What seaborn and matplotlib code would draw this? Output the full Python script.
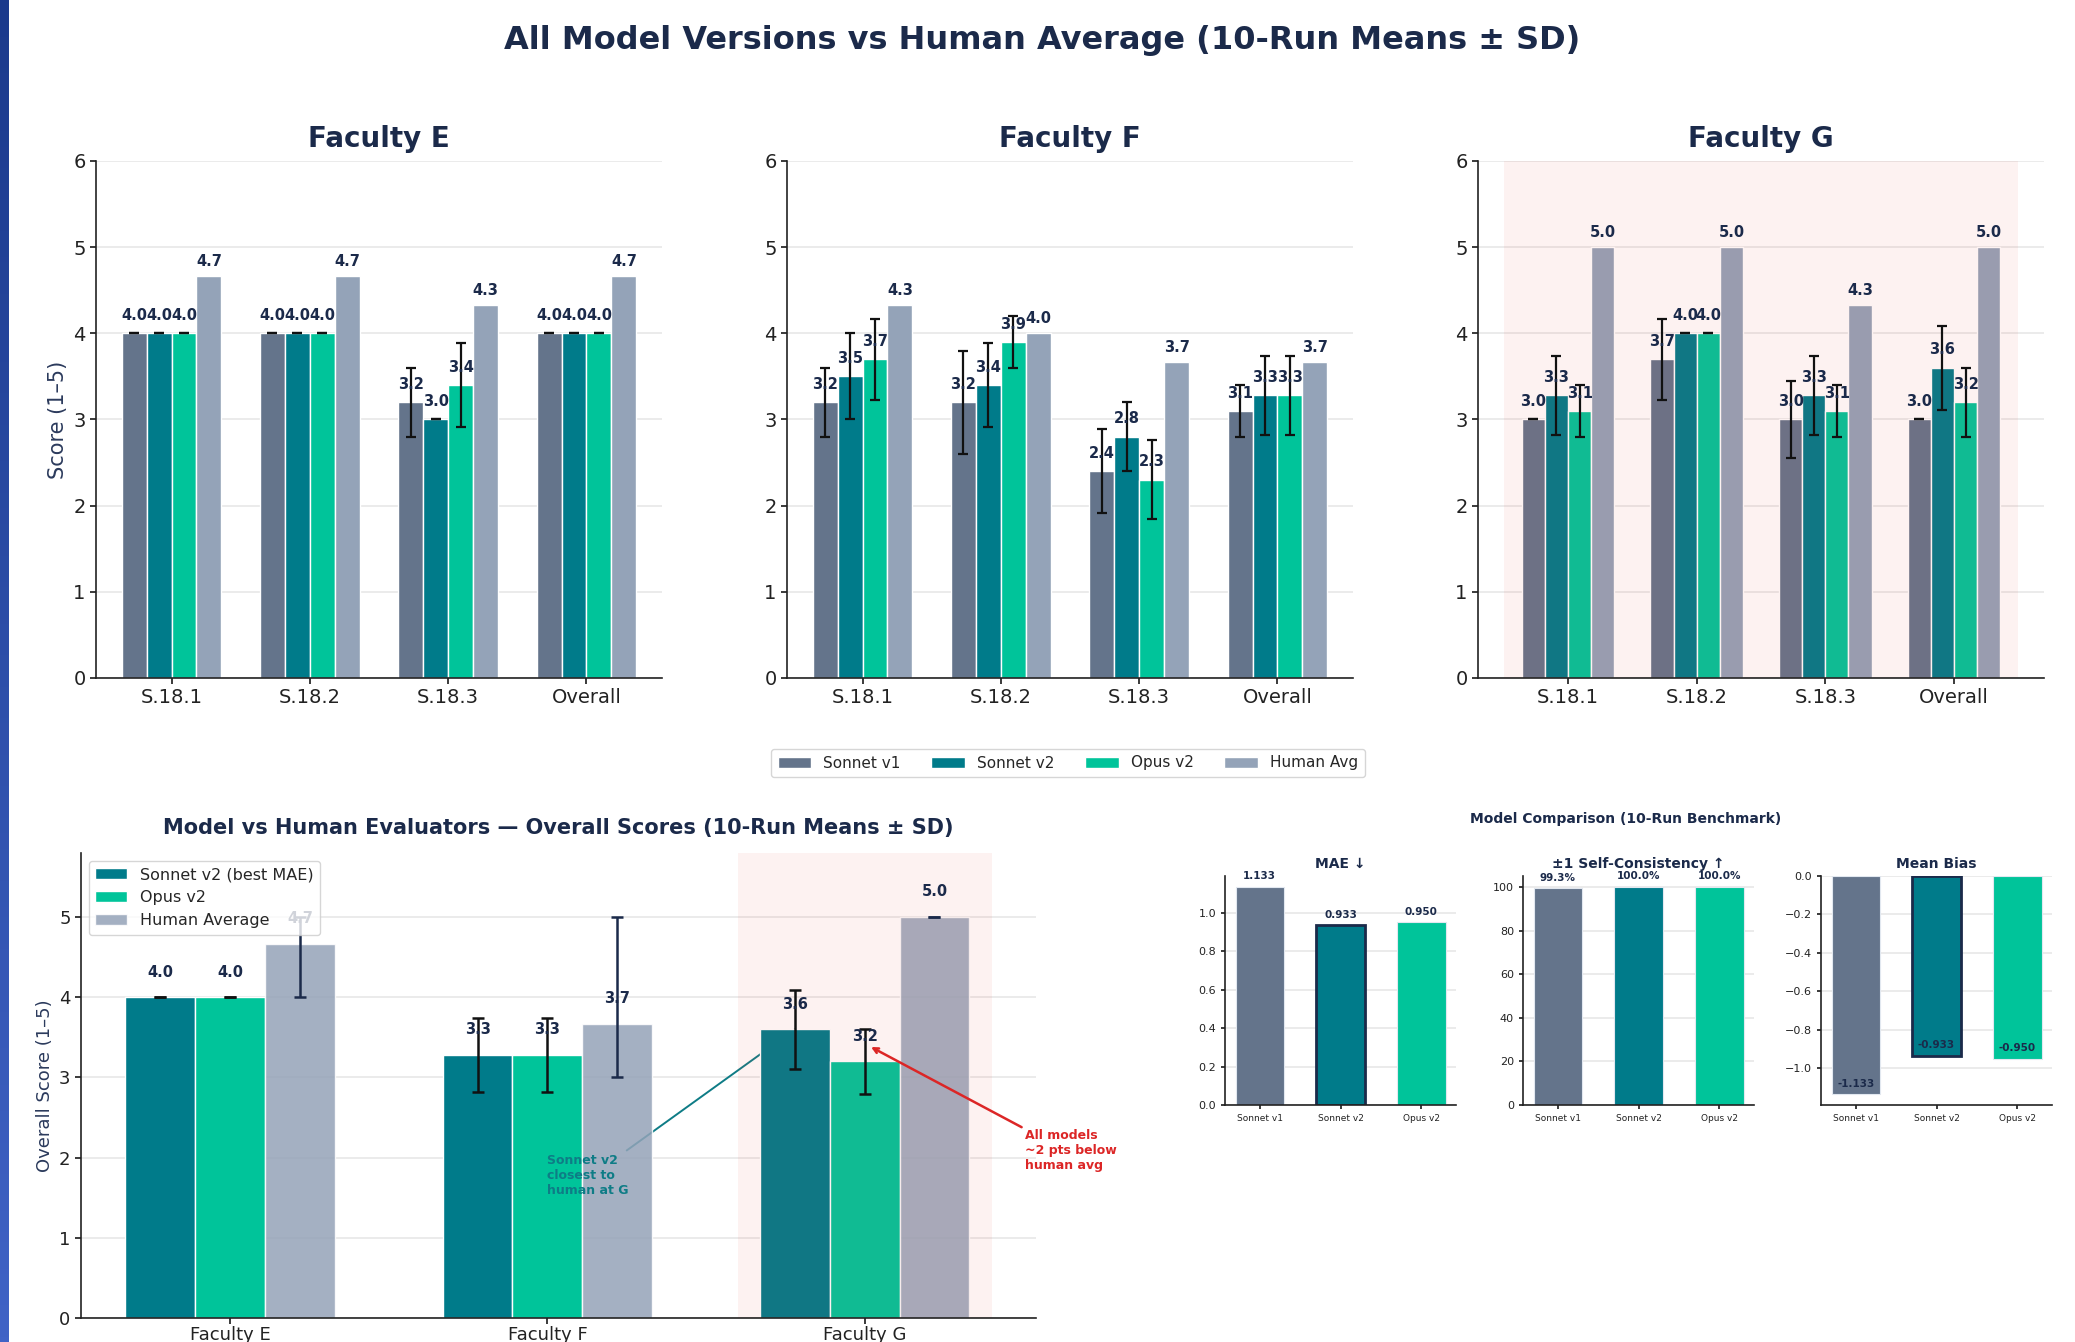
import numpy as np
import pandas as pd
import matplotlib
matplotlib.use("Agg")
import matplotlib.pyplot as plt
import seaborn as sns
from matplotlib.patches import Patch
from matplotlib.container import BarContainer
from matplotlib.colors import LinearSegmentedColormap

# ---------------- data ----------------
sections = ["S.18.1", "S.18.2", "S.18.3", "Overall"]
series_top = ["Sonnet v1", "Sonnet v2", "Opus v2", "Human Avg"]
faculties = ["Faculty E", "Faculty F", "Faculty G"]

e_sonnet_v1 = [4.0, 4.0, 3.2, 4.0]
e_sonnet_v1_sd = [0.0, 0.0, 0.4, 0.0]
e_sonnet_v2 = [4.0, 4.0, 3.0, 4.0]
e_sonnet_v2_sd = [0.0, 0.0, 0.0, 0.0]
e_opus_v2 = [4.0, 4.0, 3.4, 4.0]
e_opus_v2_sd = [0.0, 0.0, 0.49, 0.0]
e_human = [4.67, 4.67, 4.33, 4.67]

f_sonnet_v1 = [3.2, 3.2, 2.4, 3.1]
f_sonnet_v1_sd = [0.4, 0.6, 0.49, 0.3]
f_sonnet_v2 = [3.5, 3.4, 2.8, 3.28]
f_sonnet_v2_sd = [0.5, 0.49, 0.4, 0.46]
f_opus_v2 = [3.7, 3.9, 2.3, 3.28]
f_opus_v2_sd = [0.47, 0.3, 0.46, 0.46]
f_human = [4.33, 4.0, 3.67, 3.67]

g_sonnet_v1 = [3.0, 3.7, 3.0, 3.0]
g_sonnet_v1_sd = [0.0, 0.47, 0.45, 0.0]
g_sonnet_v2 = [3.28, 4.0, 3.28, 3.6]
g_sonnet_v2_sd = [0.46, 0.0, 0.46, 0.49]
g_opus_v2 = [3.1, 4.0, 3.1, 3.2]
g_opus_v2_sd = [0.3, 0.0, 0.3, 0.4]
g_human = [5.0, 5.0, 4.33, 5.0]

bl_groups = ["Faculty E", "Faculty F", "Faculty G"]
bl_series = ["Sonnet v2 (best MAE)", "Opus v2", "Human Average"]
bl_sonnet_v2 = [4.0, 3.28, 3.6]
bl_sonnet_v2_sd = [0.0, 0.46, 0.49]
bl_opus_v2 = [4.0, 3.28, 3.2]
bl_opus_v2_sd = [0.0, 0.46, 0.4]
bl_human = [4.67, 3.67, 5.0]
bl_human_min = [4.0, 3.0, 5.0]
bl_human_max = [5.0, 5.0, 5.0]

bench_models = ["Sonnet v1", "Sonnet v2", "Opus v2"]
bench_mae = [1.133, 0.933, 0.950]
bench_consistency = [99.3, 100.0, 100.0]
bench_bias = [-1.133, -0.933, -0.950]

# ---------------- style ----------------
NAVY = "#1b2a4a"
C_V1 = "#64748b"
C_V2 = "#007b8a"
C_OPUS = "#00c49a"
C_HUM = "#94a3b8"
TEAL_TXT = "#0e7c86"
RED = "#dc2626"
SPAN = "#e74c3c"

sns.set_theme(style="ticks")
plt.rcParams["font.family"] = ["DejaVu Sans"]

W, H = 2075, 1342
fig = plt.figure(figsize=(W / 100, H / 100), dpi=100)
fig.patch.set_facecolor("white")


def add_ax(x0, y0, x1, y1):
    return fig.add_axes([x0 / W, 1 - y1 / H, (x1 - x0) / W, (y1 - y0) / H])


def bar_containers(ax):
    return [c for c in list(ax.containers) if isinstance(c, BarContainer)]


def style_ax(ax, xls, yls):
    sns.despine(ax=ax)
    ax.yaxis.grid(True, color="#e8e8e8", linewidth=1.2)
    ax.xaxis.grid(False)
    ax.set_axisbelow(True)
    for s in ["left", "bottom"]:
        ax.spines[s].set_color("#222222")
        ax.spines[s].set_linewidth(1.2)
    ax.tick_params(axis="x", labelsize=xls, length=4, color="#222222", labelcolor="#222222")
    ax.tick_params(axis="y", labelsize=yls, length=4, color="#222222", labelcolor="#222222")


# left decorative stripe
ax_s = fig.add_axes([0, 0, 9 / W, 1])
ax_s.imshow(np.linspace(0, 1, 256).reshape(-1, 1), aspect="auto",
            cmap=LinearSegmentedColormap.from_list("stripe", ["#1b3a8c", "#4063c6"]))
ax_s.axis("off")

fig.text(0.502, 1 - 40 / H, "All Model Versions vs Human Average (10-Run Means ± SD)",
         ha="center", va="center", fontsize=23, fontweight="bold", color=NAVY)

# ---------------- top panels ----------------
top_data = {
    "Faculty E": (e_sonnet_v1, e_sonnet_v1_sd, e_sonnet_v2, e_sonnet_v2_sd, e_opus_v2, e_opus_v2_sd, e_human),
    "Faculty F": (f_sonnet_v1, f_sonnet_v1_sd, f_sonnet_v2, f_sonnet_v2_sd, f_opus_v2, f_opus_v2_sd, f_human),
    "Faculty G": (g_sonnet_v1, g_sonnet_v1_sd, g_sonnet_v2, g_sonnet_v2_sd, g_opus_v2, g_opus_v2_sd, g_human),
}
pal_top = dict(zip(series_top, [C_V1, C_V2, C_OPUS, C_HUM]))
lefts = [96, 787, 1478]

for fac, x0 in zip(faculties, lefts):
    v1, v1sd, v2, v2sd, op, opsd, hu = top_data[fac]
    ax = add_ax(x0, 161, x0 + 566, 678)
    rows = []
    for name, vals in zip(series_top, [v1, v2, op, hu]):
        for sec, v in zip(sections, vals):
            rows.append({"section": sec, "series": name, "score": v})
    df = pd.DataFrame(rows)
    sns.barplot(data=df, x="section", y="score", hue="series", order=sections,
                hue_order=series_top, palette=pal_top, saturation=1, width=0.72,
                errorbar=None, legend=False, ax=ax)
    style_ax(ax, 14, 14)
    sds = [v1sd, v2sd, opsd, None]
    vals_all = [v1, v2, op, hu]
    for k, cont in enumerate(bar_containers(ax)):
        xs = [b.get_x() + b.get_width() / 2 for b in cont]
        for b in cont:
            b.set_edgecolor("white")
            b.set_linewidth(1.0)
        if sds[k] is not None:
            ax.errorbar(xs, vals_all[k], yerr=sds[k], fmt="none", ecolor="#111111",
                        elinewidth=1.6, capsize=3.5, capthick=1.6, zorder=3)
            off = 0.12
        else:
            off = 0.08
        for x, v in zip(xs, vals_all[k]):
            ax.text(x, v + off, f"{v:.1f}", ha="center", va="bottom", fontsize=10.5,
                    fontweight="bold", color=NAVY, zorder=4)
    if fac == "Faculty G":
        ax.axvspan(-0.5, 3.5, color=SPAN, alpha=0.07, lw=0, zorder=1.5)
        ax.set_xlim(-0.7, 3.7)
    else:
        ax.set_xlim(-0.546, 3.546)
    ax.set_ylim(0, 6)
    ax.set_yticks(range(0, 7))
    ax.set_xlabel("")
    if fac == "Faculty E":
        ax.set_ylabel("Score (1–5)", fontsize=15, color="#2b3a5c")
    else:
        ax.set_ylabel("")
    ax.set_title(fac, fontsize=20, fontweight="bold", color=NAVY, pad=10)

handles = [Patch(facecolor=pal_top[s], edgecolor="white") for s in series_top]
fig.legend(handles, series_top, loc="center", bbox_to_anchor=(1068 / W, 1 - 763 / H),
           ncol=4, fontsize=11, frameon=True, handlelength=2.2, columnspacing=2.0,
           borderpad=0.45, edgecolor="#cccccc")

# ---------------- bottom-left panel ----------------
ax = add_ax(81, 853, 1036, 1318)
rows = []
for name, vals in zip(bl_series, [bl_sonnet_v2, bl_opus_v2, bl_human]):
    for g, v in zip(bl_groups, vals):
        rows.append({"group": g, "series": name, "score": v})
df = pd.DataFrame(rows)
pal_bl = dict(zip(bl_series, [C_V2, C_OPUS, C_HUM]))
sns.barplot(data=df, x="group", y="score", hue="series", order=bl_groups, hue_order=bl_series,
            palette=pal_bl, saturation=1, width=0.66, errorbar=None, legend=False, ax=ax)
style_ax(ax, 13, 13)
ax.tick_params(axis="x", pad=1.5)
bl_vals = [bl_sonnet_v2, bl_opus_v2, bl_human]
bl_sds = [bl_sonnet_v2_sd, bl_opus_v2_sd, None]
centers = []
for k, cont in enumerate(bar_containers(ax)):
    xs = [b.get_x() + b.get_width() / 2 for b in cont]
    centers.append(xs)
    for b in cont:
        b.set_edgecolor("white")
        b.set_linewidth(1.0)
        if k == 2:
            b.set_alpha(0.85)
    if bl_sds[k] is not None:
        ax.errorbar(xs, bl_vals[k], yerr=bl_sds[k], fmt="none", ecolor="#111111",
                    elinewidth=1.8, capsize=4.5, capthick=1.8, zorder=3)
    else:
        lo = [m - a for m, a in zip(bl_human, bl_human_min)]
        hi = [b_ - m for m, b_ in zip(bl_human, bl_human_max)]
        ax.errorbar(xs, bl_human, yerr=[lo, hi], fmt="none", ecolor=NAVY,
                    elinewidth=1.8, capsize=4.5, capthick=1.8, zorder=3)
    for x, v in zip(xs, bl_vals[k]):
        ax.text(x, v + 0.22, f"{v:.1f}", ha="center", va="bottom", fontsize=10.5,
                fontweight="bold", color=NAVY, zorder=4)
ax.axvspan(1.6, 2.4, color=SPAN, alpha=0.07, lw=0, zorder=1.5)
ax.set_xlim(-0.47, 2.54)
ax.set_ylim(0, 5.8)
ax.set_yticks(range(0, 6))
ax.set_xlabel("")
ax.set_ylabel("Overall Score (1–5)", fontsize=13, color="#2b3a5c")
ax.set_title("Model vs Human Evaluators — Overall Scores (10-Run Means ± SD)",
             fontsize=15, fontweight="bold", color=NAVY, pad=14)
bl_handles = [Patch(facecolor=C_V2), Patch(facecolor=C_OPUS), Patch(facecolor=C_HUM, alpha=0.85)]
ax.legend(bl_handles, bl_series, loc="upper left", fontsize=11.5, frameon=True,
          edgecolor="#cccccc", handlelength=2.0)

# annotations
ax.annotate("", xy=(centers[0][2], bl_sonnet_v2[2]), xytext=(1.25, 2.09),
            arrowprops=dict(arrowstyle="-", color=TEAL_TXT, lw=1.4, shrinkA=0, shrinkB=0),
            zorder=0.9)
ax.text(1.0, 1.78, "Sonnet v2\nclosest to\nhuman at G", ha="left", va="center",
        fontsize=9, fontweight="bold", color=TEAL_TXT, zorder=5)
ax.annotate("All models\n~2 pts below\nhuman avg", xy=(centers[1][2] + 0.02, 3.38),
            xytext=(2.505, 2.09), ha="left", va="center", fontsize=9, fontweight="bold",
            color=RED, annotation_clip=False,
            arrowprops=dict(arrowstyle="->", color=RED, lw=1.8, relpos=(0, 1), shrinkA=0,
                            shrinkB=0), zorder=5)

# ---------------- benchmark panels ----------------
fig.text(1626 / W, 1 - 819 / H, "Model Comparison (10-Run Benchmark)", ha="center",
         va="center", fontsize=10, fontweight="bold", color=NAVY)
pal_b = dict(zip(bench_models, [C_V1, C_V2, C_OPUS]))
bench = [
    (bench_mae, "MAE ↓", lambda v: f"{v:.3f}", True),
    (bench_consistency, "±1 Self-Consistency ↑", lambda v: f"{v:.1f}%", False),
    (bench_bias, "Mean Bias", lambda v: f"{v:.3f}", True),
]
for (vals, title, fmt, edge), x0 in zip(bench, [1225, 1523, 1821]):
    ax = add_ax(x0, 876, x0 + 231, 1105)
    sns.barplot(x=bench_models, y=vals, hue=bench_models, palette=pal_b, saturation=1,
                width=0.6, errorbar=None, legend=False, ax=ax)
    style_ax(ax, 6.5, 8)
    ax.tick_params(length=3)
    bars = [b for c in bar_containers(ax) for b in c]
    bars.sort(key=lambda b: b.get_x())
    for k, b in enumerate(bars):
        b.set_edgecolor("#e2e8f0")
        b.set_linewidth(0.8)
        if edge and bench_models[k] == "Sonnet v2":
            b.set_edgecolor(NAVY)
            b.set_linewidth(2.0)
        x = b.get_x() + b.get_width() / 2
        ax.annotate(fmt(vals[k]), (x, vals[k]), xytext=(0, 4), textcoords="offset points",
                    ha="center", va="bottom", fontsize=7.5, fontweight="bold", color=NAVY)
    ax.set_xlim(-0.43, 2.43)
    if max(vals) > 0:
        ax.set_ylim(0, 105 if max(vals) > 50 else max(vals) * 1.05)
    else:
        ax.set_ylim(min(vals) * 1.05, 0)
    ax.set_xlabel("")
    ax.set_ylabel("")
    ax.set_title(title, fontsize=10, fontweight="bold", color=NAVY, pad=6)

fig.savefig("out.png", dpi=100, facecolor="white")
